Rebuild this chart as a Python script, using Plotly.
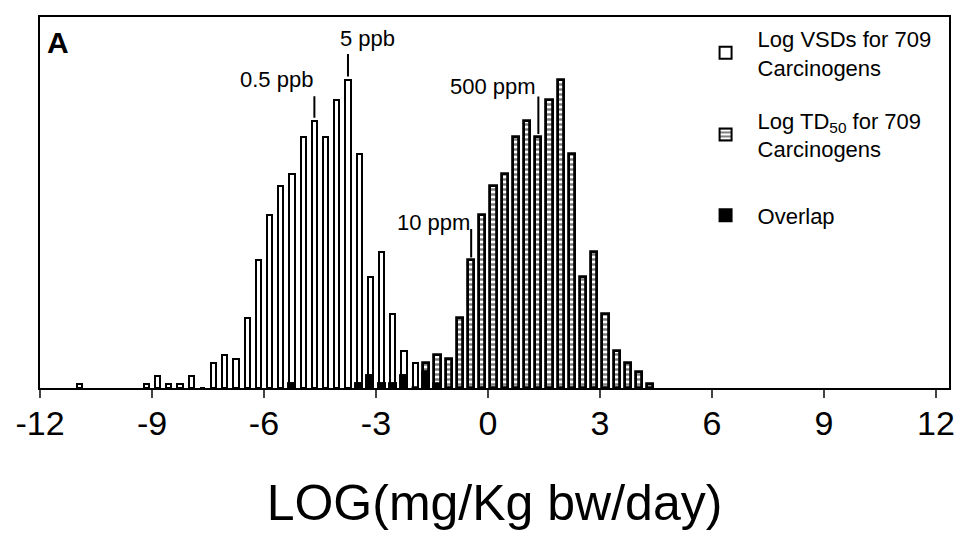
import plotly.graph_objects as go

# ---- data ----
vsd_centers = [-10.95, -9.15, -8.85, -8.55, -8.25, -7.95, -7.65, -7.35, -7.05, -6.75,
               -6.45, -6.15, -5.85, -5.55, -5.25, -4.95, -4.65, -4.35, -4.05, -3.75,
               -3.45, -3.15, -2.85, -2.55, -2.25, -1.95, -1.65, -1.35]
vsd_counts = [1, 1, 3, 1, 1, 3, 0, 6, 8, 7,
              17, 31, 42, 49, 52, 61, 65, 61, 70, 75,
              57, 27, 33, 18, 9, 6, 4, 1]

td50_centers = [-5.25, -3.45, -3.15, -2.85, -2.55, -2.25, -1.95, -1.65, -1.35, -1.05,
                -0.75, -0.45, -0.15, 0.15, 0.45, 0.75, 1.05, 1.35, 1.65, 1.95,
                2.25, 2.55, 2.85, 3.15, 3.45, 3.75, 4.05, 4.35]
td50_counts = [1, 1, 3, 1, 1, 3, 0, 6, 8, 7,
               17, 31, 42, 49, 52, 61, 65, 61, 70, 75,
               57, 27, 33, 18, 9, 6, 4, 1]

overlap_centers = [-5.25, -3.45, -3.15, -2.85, -2.55, -2.25, -1.65, -1.35]
overlap_counts = [1, 1, 3, 1, 1, 3, 4, 1]

tick_vals = [-12, -9, -6, -3, 0, 3, 6, 9, 12]
tick_text = ["-12", "-9", "-6", "-3", "0", "3", "6", "9", "12"]

# labelled bars: (label, series, bin centre)
labels = [
    ("0.5 ppb", "vsd", -4.65),
    ("5 ppb", "vsd", -3.75),
    ("10 ppm", "td50", -0.45),
    ("500 ppm", "td50", 1.35),
]

FONT = "Liberation Sans, Arial, Helvetica, sans-serif"

fig = go.Figure()
fig.add_trace(go.Bar(
    x=vsd_centers, y=vsd_counts, width=0.14,
    name="Log VSDs for 709<br>Carcinogens", legend="legend",
    marker=dict(color="white", line=dict(color="black", width=2)),
))
fig.add_trace(go.Bar(
    x=td50_centers, y=td50_counts, width=0.165,
    name="Log TD<sub>50</sub> for 709<br>Carcinogens", legend="legend2",
    marker=dict(color="white", line=dict(color="black", width=2.8),
                pattern=dict(shape="-", fgcolor="black", bgcolor="white",
                             size=5, solidity=0.5)),
))
fig.add_trace(go.Bar(
    x=overlap_centers, y=overlap_counts, width=0.165,
    name="Overlap", legend="legend3",
    marker=dict(color="black", line=dict(color="black", width=2.8)),
))

lookup = {"vsd": dict(zip(vsd_centers, vsd_counts)),
          "td50": dict(zip(td50_centers, td50_counts))}
text_pos = {  # (xanchor, xshift, yshift, line length px)
    "0.5 ppb": ("right", 1, 41, 23),
    "5 ppb": ("left", -10, 41, 24),
    "10 ppm": ("right", 1, 38, 30),
    "500 ppm": ("right", 0, 51, 39),
}
for lab, series, xc in labels:
    yv = lookup[series][xc]
    xa, xs, ys, ln = text_pos[lab]
    fig.add_annotation(x=xc, y=yv, xref="x", yref="y", text="", showarrow=True,
                       ax=0, ay=-(ln + 3), arrowhead=0, arrowwidth=2,
                       arrowcolor="black", standoff=3)
    fig.add_annotation(x=xc, y=yv, xref="x", yref="y", text=lab, showarrow=False,
                       xanchor=xa, yanchor="middle", xshift=xs, yshift=ys,
                       font=dict(family=FONT, size=22, color="black"))

fig.add_annotation(x=0.005, y=0.93, xref="paper", yref="paper", text="<b>A</b>",
                   showarrow=False, xanchor="left", yanchor="middle",
                   font=dict(family=FONT, size=30, color="black"))

leg_common = dict(xanchor="left", yanchor="top", bgcolor="rgba(0,0,0,0)",
                  font=dict(family=FONT, size=22, color="black"),
                  itemwidth=54, itemsizing="constant")

fig.update_layout(
    width=954, height=528,
    margin=dict(l=26, r=7, t=7, b=148),
    paper_bgcolor="white", plot_bgcolor="white",
    barmode="overlay", bargap=0,
    font=dict(family=FONT, color="black"),
    showlegend=True,
    legend=dict(x=0.719, y=0.998, **leg_common),
    legend2=dict(x=0.719, y=0.778, **leg_common),
    legend3=dict(x=0.719, y=0.522, **leg_common),
    xaxis=dict(range=[-12, 12.35], tickvals=tick_vals, ticktext=tick_text,
               showgrid=False, zeroline=False, showline=True, linecolor="black",
               linewidth=2, mirror=True, ticks="outside", ticklen=8, tickwidth=1.5,
               tickcolor="#444", ticklabelstandoff=-4,
               tickfont=dict(family=FONT, size=34, color="black"),
               title=dict(text="LOG(mg/Kg bw/day)", standoff=44,
                          font=dict(family=FONT, size=50, color="black"))),
    yaxis=dict(range=[0, 90.2], showgrid=False, zeroline=False, showline=True,
               linecolor="black", linewidth=2, mirror=True, ticks="",
               showticklabels=False),
)

fig.write_html("out.html")
